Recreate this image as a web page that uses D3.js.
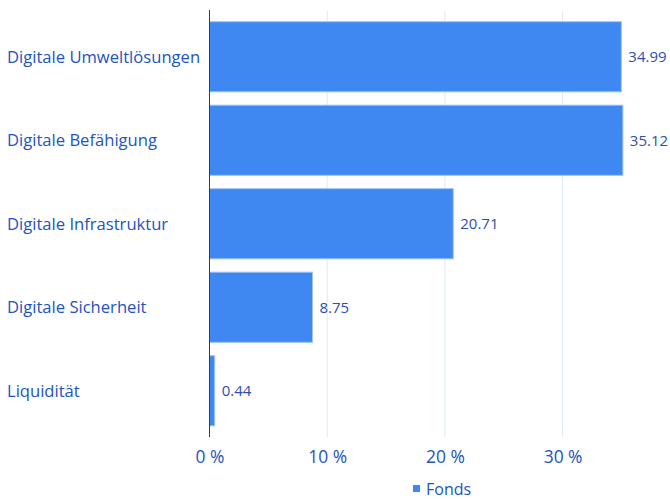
<!DOCTYPE html>
<html lang="de">
<head>
  <meta charset="UTF-8">
  <title>Fonds - Aufteilung</title>
  <script src="https://d3js.org/d3.v7.min.js"></script>
  <style>
    body { margin: 0; background: #fff; }
    text { font-family: "Open Sans", "Noto Sans", sans-serif; }
  </style>
</head>
<body>
<script>
  // data
  const categories = ["Digitale Umweltlösungen", "Digitale Befähigung", "Digitale Infrastruktur", "Digitale Sicherheit", "Liquidität"];
  const fondsValues = [34.99, 35.12, 20.71, 8.75, 0.44];
  const xTicks = [0, 10, 20, 30];
  const seriesName = "Fonds";

  const width = 670, height = 499;
  const plotLeft = 209.5, plotRight = 209.5 + 117.7 * 3.5;
  const plotTop = 11, plotBottom = 437;

  const barColor = "#3f88f2";
  const textColor = "#2253c2";

  const svg = d3.select("body").append("svg")
    .attr("width", width)
    .attr("height", height);

  const x = d3.scaleLinear().domain([0, 35]).range([plotLeft, plotRight]);
  const y = d3.scaleBand().domain(categories).range([15, 432.5]).paddingInner(0.16).paddingOuter(0.08);

  // gridlines
  svg.append("g")
    .selectAll("line")
    .data(xTicks.slice(1))
    .join("line")
    .attr("x1", d => x(d)).attr("x2", d => x(d))
    .attr("y1", plotTop).attr("y2", plotBottom)
    .attr("stroke", "#dde8f6")
    .attr("stroke-width", 1);

  // bars
  svg.append("g")
    .selectAll("rect")
    .data(fondsValues)
    .join("rect")
    .attr("x", x(0))
    .attr("y", (d, i) => y(categories[i]))
    .attr("width", d => x(d) - x(0))
    .attr("height", y.bandwidth())
    .attr("fill", barColor)
    .attr("stroke", "#9fc3f7")
    .attr("stroke-width", 1);

  // value labels
  svg.append("g")
    .selectAll("text")
    .data(fondsValues)
    .join("text")
    .attr("x", d => x(d) + 7)
    .attr("y", (d, i) => y(categories[i]) + y.bandwidth() / 2)
    .attr("dy", "0.35em")
    .attr("font-size", 15)
    .attr("fill", "#2c4fae")
    .text(d => d.toFixed(2));

  // category labels
  svg.append("g")
    .selectAll("text")
    .data(categories)
    .join("text")
    .attr("x", 7)
    .attr("y", d => y(d) + y.bandwidth() / 2)
    .attr("dy", "0.35em")
    .attr("font-size", 16.6)
    .attr("fill", textColor)
    .text(d => d);

  // x axis
  const xAxis = svg.append("g")
    .attr("transform", "translate(0," + plotBottom + ")")
    .call(d3.axisBottom(x).tickValues(xTicks).tickSize(0).tickPadding(14).tickFormat(d => d + " %"));
  xAxis.select(".domain").remove();
  xAxis.selectAll("text")
    .attr("font-size", 17.4)
    .attr("font-family", "'Open Sans', 'Noto Sans', sans-serif")
    .attr("fill", textColor);

  // y axis line
  svg.append("line")
    .attr("x1", plotLeft).attr("x2", plotLeft)
    .attr("y1", plotTop - 1).attr("y2", plotBottom)
    .attr("stroke", "#1c3a94")
    .attr("stroke-width", 1);

  // legend
  const legend = svg.append("g").attr("transform", "translate(413,489)");
  legend.append("rect")
    .attr("x", 0).attr("y", -4)
    .attr("width", 7).attr("height", 7)
    .attr("fill", barColor);
  legend.append("text")
    .attr("x", 13).attr("y", 0)
    .attr("dy", "0.35em")
    .attr("font-size", 16)
    .attr("fill", textColor)
    .text(seriesName);
</script>
</body>
</html>
